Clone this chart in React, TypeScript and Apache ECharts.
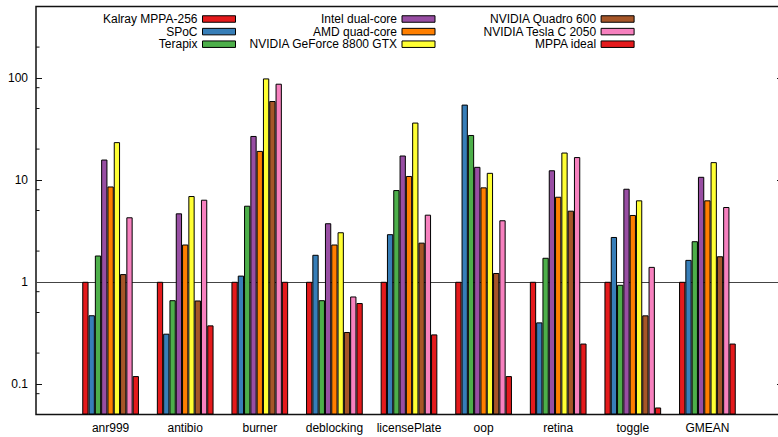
import React, { useEffect, useRef } from "react";
import * as echarts from "echarts";

const categories = ["anr999", "antibio", "burner", "deblocking", "licensePlate", "oop", "retina", "toggle", "GMEAN"];

const seriesNames = [
  "Kalray MPPA-256",
  "SPoC",
  "Terapix",
  "Intel dual-core",
  "AMD quad-core",
  "NVIDIA GeForce 8800 GTX",
  "NVIDIA Quadro 600",
  "NVIDIA Tesla C 2050",
  "MPPA ideal",
];

const kalray = [1, 1, 1, 1, 1, 1, 1, 1, 1];
const spoc = [0.47, 0.31, 1.15, 1.84, 2.93, 54.6, 0.4, 2.75, 1.64];
const terapix = [1.81, 0.66, 5.57, 0.66, 7.93, 27.5, 1.72, 0.935, 2.5];
const intel = [15.8, 4.69, 26.9, 3.75, 17.3, 13.4, 12.4, 8.17, 10.7];
const amd = [8.6, 2.32, 19.2, 2.32, 10.9, 8.43, 6.82, 4.52, 6.29];
const geforce = [23.4, 6.93, 98.6, 3.06, 36.4, 11.7, 18.5, 6.29, 14.9];
const quadro = [1.19, 0.656, 59.2, 0.322, 2.42, 1.22, 4.98, 0.469, 1.78];
const tesla = [4.29, 6.38, 87.5, 0.718, 4.55, 4.01, 16.7, 1.4, 5.41];
const ideal = [0.119, 0.374, 1, 0.619, 0.305, 0.119, 0.248, 0.0586, 0.248];

const yMajorLabels = [0.1, 1, 10, 100];
const yMinorTicks = [0.08, 0.2, 0.5, 0.8, 2, 5, 8, 20, 50, 80, 200];

const colors = ["#e41a1c", "#377eb8", "#4daf4a", "#984ea3", "#ff7f00", "#ffff33", "#a65628", "#f781bf", "#e41a1c"];

const allValues = [kalray, spoc, terapix, intel, amd, geforce, quadro, tesla, ideal];

const FONT = "'Liberation Sans', Arial, Helvetica, sans-serif";

export default function App() {
  const ref = useRef<HTMLDivElement>(null);

  useEffect(() => {
    document.body.style.margin = "0";
    const chart = echarts.init(ref.current!, null, { renderer: "svg" });

    const xData = ["", ...categories, ""];
    const pad = (arr: number[]) => ["-", ...arr, "-"];

    const barSeries: any[] = seriesNames.map((name, i) => ({
      name,
      type: "bar",
      data: pad(allValues[i]),
      barWidth: 6.3,
      barGap: "0%",
      itemStyle: { color: colors[i], borderColor: "#000", borderWidth: 1 },
      z: 3,
    }));

    const legendBase = {
      orient: "vertical",
      align: "right",
      top: 12.7,
      padding: 0,
      itemGap: 0,
      itemWidth: 33,
      itemHeight: 6.5,
      icon: "rect",
      selectedMode: false,
      textStyle: { fontFamily: FONT, fontSize: 12, color: "#000", lineHeight: 12.6 },
      itemStyle: { borderColor: "#000", borderWidth: 1 },
    };

    const option: any = {
      animation: false,
      textStyle: { fontFamily: FONT },
      grid: {
        left: 36,
        right: -4,
        top: 6.5,
        bottom: 22.5,
        containLabel: false,
        outerBoundsMode: "none",
        show: true,
        borderColor: "#111",
        borderWidth: 1.5,
        backgroundColor: "transparent",
      },
      legend: [
        { ...legendBase, right: 542, data: seriesNames.slice(0, 3) },
        { ...legendBase, right: 342.5, data: seriesNames.slice(3, 6) },
        { ...legendBase, right: 143.4, data: seriesNames.slice(6, 9) },
      ],
      xAxis: {
        type: "category",
        data: xData,
        boundaryGap: false,
        axisLine: { show: false },
        axisTick: { show: false },
        splitLine: { show: false },
        axisLabel: { fontFamily: FONT, fontSize: 12, color: "#000", margin: 7, interval: 0 },
      },
      yAxis: [
        {
          type: "log",
          logBase: 10,
          min: 0.05,
          max: 500,
          startValue: 0.05,
          axisLine: { show: false },
          splitLine: { show: false },
          axisTick: { show: true, inside: true, length: 6, lineStyle: { color: "#111", width: 1 } },
          axisLabel: {
            fontFamily: FONT,
            fontSize: 12,
            color: "#000",
            margin: 8,
            showMinLabel: false,
            showMaxLabel: false,
            formatter: (v: number) => {
              const hit = yMajorLabels.find((m) => Math.abs(m - v) / m < 1e-6);
              return hit !== undefined ? String(hit) : "";
            },
          },
        },
        {
          type: "log",
          logBase: 10,
          min: 0.05,
          max: 500,
          position: "right",
          axisLine: { show: false },
          splitLine: { show: false },
          axisTick: { show: true, inside: true, length: 5, lineStyle: { color: "#111", width: 1 } },
          axisLabel: { show: false },
        },
      ],
      series: [
        {
          name: "__refline",
          type: "line",
          data: [],
          z: 1,
          markLine: {
            silent: true,
            symbol: "none",
            z: 1,
            label: { show: false },
            lineStyle: { color: "#444", width: 1, type: "solid" },
            data: [{ yAxis: 1 }],
          },
        },
        ...barSeries,
        {
          name: "__minorTicks",
          type: "custom",
          clip: false,
          silent: true,
          z: 10,
          data: yMinorTicks.map((v) => [0, v]),
          encode: { x: 0, y: 1 },
          renderItem: (params: any, api: any) => {
            const pt = api.coord([0, api.value(1)]);
            const x0 = params.coordSys.x;
            return {
              type: "line",
              shape: { x1: x0, y1: pt[1], x2: x0 + 3.5, y2: pt[1] },
              style: { stroke: "#111", lineWidth: 1 },
            };
          },
        },
      ],
    };

    chart.setOption(option);
    return () => chart.dispose();
  }, []);

  return <div ref={ref} style={{ width: 778, height: 437 }} />;
}
